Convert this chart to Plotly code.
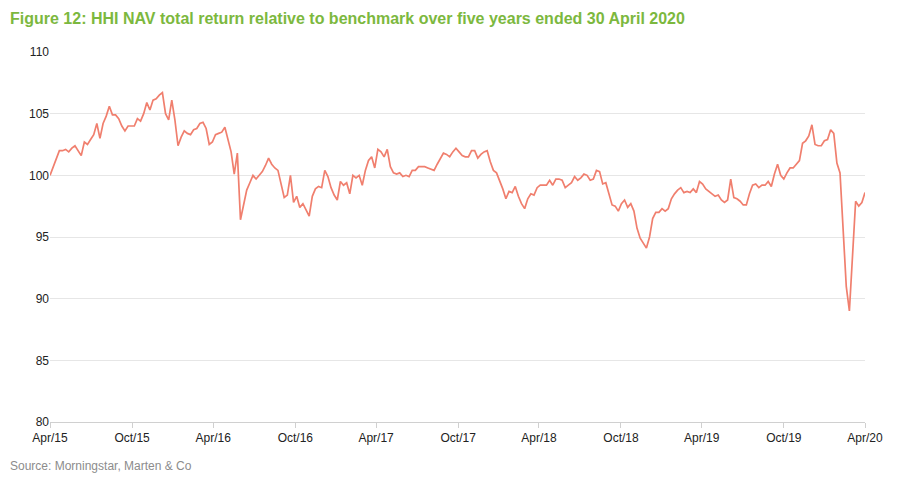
import pandas as pd
import plotly.graph_objects as go

title_text = "Figure 12: HHI NAV total return relative to benchmark over five years ended 30 April 2020"
source_text = "Source: Morningstar, Marten & Co"

start_date = "2015-04-30"
values = [
    100.0, 100.7, 101.4, 102.0, 102.0, 102.1, 101.9, 102.2, 102.4, 102.0,
    101.6, 102.7, 102.5, 102.9, 103.3, 104.2, 103.0, 104.2, 104.8, 105.6,
    104.9, 104.9, 104.6, 104.0, 103.6, 104.0, 104.0, 104.0, 104.6, 104.4,
    105.0, 105.9, 105.3, 106.1, 106.2, 106.5, 106.7, 105.0, 104.5, 106.1,
    104.5, 102.4, 103.1, 103.6, 103.4, 103.3, 103.7, 103.8, 104.2, 104.3,
    103.8, 102.5, 102.7, 103.3, 103.4, 103.5, 103.9, 103.0, 101.9, 100.1,
    101.8, 96.4, 97.5, 98.8, 99.4, 100.0, 99.7, 100.0, 100.3, 100.8,
    101.4, 100.9, 100.6, 100.4, 99.3, 98.2, 98.4, 100.0, 97.8, 98.3,
    97.4, 97.7, 97.2, 96.7, 98.3, 98.9, 99.1, 99.0, 100.4, 99.9,
    99.0, 98.4, 98.0, 99.5, 99.2, 99.4, 98.5, 100.0, 99.8, 100.0,
    99.2, 100.4, 101.2, 101.5, 100.6, 102.1, 101.9, 101.5, 102.1, 100.7,
    100.2, 100.1, 100.2, 99.9, 100.0, 99.9, 100.4, 100.4, 100.7, 100.7,
    100.7, 100.6, 100.5, 100.4, 100.9, 101.3, 101.8, 101.7, 101.5, 101.9,
    102.2, 101.9, 101.6, 101.5, 101.5, 102.0, 102.0, 101.4, 101.7, 101.9,
    102.0, 101.1, 100.4, 100.2, 99.6, 98.9, 98.1, 98.7, 98.6, 99.1,
    98.3, 97.7, 97.3, 98.1, 98.5, 98.4, 99.0, 99.2, 99.2, 99.2,
    99.6, 99.2, 99.7, 99.7, 99.6, 99.0, 99.2, 99.4, 99.9, 99.6,
    99.8, 100.1, 100.0, 99.6, 99.7, 100.4, 100.3, 99.3, 99.4, 98.5,
    97.6, 97.5, 97.1, 97.7, 98.0, 97.4, 97.7, 97.1, 95.7, 94.9,
    94.5, 94.1, 95.0, 96.5, 97.0, 97.0, 97.3, 97.1, 97.3, 98.1,
    98.5, 98.8, 99.0, 98.6, 98.7, 98.6, 98.9, 98.6, 99.5, 99.3,
    98.9, 98.7, 98.5, 98.3, 98.4, 98.0, 97.8, 98.0, 99.7, 98.2,
    98.1, 97.9, 97.6, 97.6, 98.5, 99.2, 99.3, 99.0, 99.2, 99.2,
    99.5, 99.1, 100.1, 100.9, 100.0, 99.7, 100.2, 100.6, 100.6, 100.9,
    101.2, 102.6, 102.8, 103.2, 104.1, 102.5, 102.4, 102.4, 102.8, 102.9,
    103.7, 103.4, 101.0, 100.2, 95.2, 91.0, 89.0, 94.0, 97.9, 97.5,
    97.8, 98.6,
]
dates = pd.date_range(start_date, periods=len(values), freq="7D")

tick_dates = ["2015-04-30", "2015-10-31", "2016-04-30", "2016-10-31", "2017-04-30",
              "2017-10-31", "2018-04-30", "2018-10-31", "2019-04-30", "2019-10-31",
              "2020-04-30"]
tick_labels = ["Apr/15", "Oct/15", "Apr/16", "Oct/16", "Apr/17", "Oct/17",
               "Apr/18", "Oct/18", "Apr/19", "Oct/19", "Apr/20"]
y_ticks = [80, 85, 90, 95, 100, 105, 110]

FONT = "Liberation Sans Narrow, Liberation Sans, Arial, sans-serif"

fig = go.Figure()
fig.add_trace(go.Scatter(
    x=dates, y=values, mode="lines",
    line=dict(color="#f07f6e", width=1.7),
    showlegend=False, hoverinfo="x+y",
))

fig.update_layout(
    width=903, height=493,
    margin=dict(l=42, r=46, t=44, b=79),
    paper_bgcolor="white", plot_bgcolor="white",
    font=dict(family=FONT, size=12, color="#333333"),
    annotations=[
        dict(text="<b>" + title_text + "</b>", xref="paper", yref="paper",
             x=-42/815, y=1 + 34/370, xanchor="left", yanchor="middle",
             showarrow=False, font=dict(family=FONT, size=16, color="#7cb83e")),
        dict(text=source_text, xref="paper", yref="paper",
             x=-42/815, y=-44/370, xanchor="left", yanchor="middle",
             showarrow=False, font=dict(family=FONT, size=12, color="#8c8c8c")),
    ],
)
fig.update_xaxes(
    type="date", range=["2015-04-30", "2020-04-30"],
    tickvals=tick_dates, ticktext=tick_labels,
    showgrid=False, showline=True, linecolor="#d0d0d0", linewidth=1,
    ticks="outside", ticklen=5, tickcolor="#d0d0d0",
    tickfont=dict(family=FONT, size=12, color="#222222"),
    zeroline=False,
)
fig.update_yaxes(
    range=[80, 110], tickvals=y_ticks,
    showgrid=True, gridcolor="#e6e6e6", gridwidth=1,
    showline=False, zeroline=False, ticks="",
    tickfont=dict(family=FONT, size=12, color="#222222"),
)

fig.write_html("out.html")
